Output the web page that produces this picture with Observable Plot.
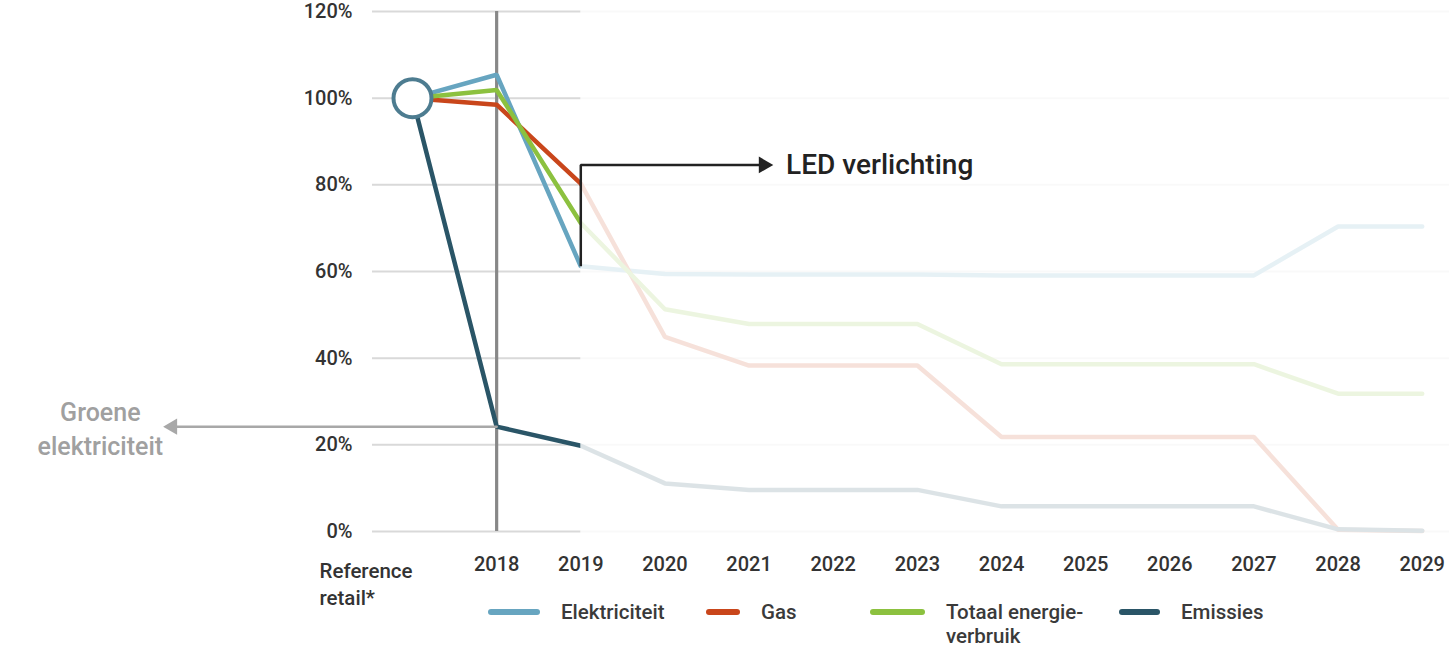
<!DOCTYPE html>
<html>
<head>
<meta charset="utf-8">
<script src="https://cdn.jsdelivr.net/npm/d3@7"></script>
<script src="https://cdn.jsdelivr.net/npm/@observablehq/plot@0.6"></script>
<style>
  body { margin: 0; background: #fff; font-family: Roboto, sans-serif; }
  #wrap { position: relative; width: 1449px; height: 648px; overflow: hidden; }
  #legend { position: absolute; left: 0; top: 600px; width: 1449px; height: 48px; }
  .sw { position: absolute; height: 6px; border-radius: 3px; top: 9px; }
  .lt { position: absolute; top: 0; font-size: 20.5px; font-weight: 500; line-height: 24px; color: #3a3a3a; white-space: nowrap; }
  svg text { font-weight: 500; }
</style>
</head>
<body>
<div id="wrap"><div id="chart"></div><div id="legend"></div></div>
<script>
// ---- data ----
const categories = ["Reference retail*", "2018", "2019", "2020", "2021", "2022", "2023", "2024", "2025", "2026", "2027", "2028", "2029"];
const seriesNames = ["Elektriciteit", "Gas", "Totaal energie-\nverbruik", "Emissies"];
const seriesColors = ["#67a5c0", "#c9461b", "#8cc13f", "#2a5567"];
const elektriciteit = [100, 105.4, 61.2, 59.4, 59.3, 59.3, 59.3, 59.1, 59.1, 59.1, 59.1, 70.4, 70.4];
const gas           = [100, 98.5, 80.3, 44.9, 38.3, 38.3, 38.3, 21.8, 21.8, 21.8, 21.8, 0.4, 0.1];
const totaal        = [100, 101.9, 71.2, 51.3, 47.9, 47.9, 47.9, 38.6, 38.6, 38.6, 38.6, 31.8, 31.8];
const emissies      = [100, 24.2, 19.8, 11.1, 9.6, 9.6, 9.6, 5.8, 5.8, 5.8, 5.8, 0.5, 0.2];
const seriesValues = [elektriciteit, gas, totaal, emissies];
const yTicks = [0, 20, 40, 60, 80, 100, 120];
const futureFrom = "2019";
const ledLabel = "LED verlichting";
const ledLevel = 84.6;     // height of the LED bracket (value)
const ledTip = 4.28;       // arrow tip (category index units)
const ledTextAt = 4.44;
const groeneLabel = "Groene\nelektriciteit";
const groeneTip = -2.96;
const groeneTextAt = -3.71;

// ---- derived ----
const rows = seriesNames.flatMap((name, s) => seriesValues[s].map((v, i) => ({serie: name, i, value: v})));
const futureIdx = categories.indexOf(futureFrom);
const xDomain = [-0.4754, 12.324];
const yDomain = [0, 120];
const ledBracket = [
  {i: futureIdx, value: elektriciteit[futureIdx]},
  {i: futureIdx, value: ledLevel},
  {i: ledTip - 0.1, value: ledLevel}
];
const groeneIdx = categories.indexOf("2018");
const groeneArrow = [
  {i: groeneIdx, value: emissies[groeneIdx]},
  {i: groeneTip + 0.1, value: emissies[groeneIdx]}
];

const chart = Plot.plot({
  width: 1449,
  height: 600,
  marginLeft: 372,
  marginRight: 0,
  marginTop: 11,
  marginBottom: 69,
  x: {domain: xDomain},
  y: {domain: yDomain},
  color: {domain: seriesNames, range: seriesColors},
  style: {fontFamily: "Roboto, sans-serif", fontSize: "20px", color: "#333", background: "white", overflow: "visible"},
  marks: [
    Plot.gridY(yTicks, {stroke: "#d9d9d9", strokeOpacity: 1, strokeWidth: 2}),
    Plot.axisY({ticks: yTicks, tickFormat: d => d + "%", tickSize: 0, tickPadding: 20, label: null, fontSize: 20}),
    Plot.axisX({ticks: d3.range(1, categories.length), tickFormat: i => categories[i], tickSize: 0, tickPadding: 25, label: null, fontSize: 20}),
    Plot.ruleX([groeneIdx], {y1: yDomain[0], y2: yDomain[1], stroke: "#888", strokeWidth: 3.2}),
    Plot.line(rows, {x: "i", y: "value", z: "serie", stroke: "serie", strokeWidth: 4.5, strokeLinejoin: "miter", strokeLinecap: "round"}),
    Plot.rect([0], {x1: futureIdx, x2: xDomain[1], y1: yDomain[0] - 1.2, y2: yDomain[1] + 1.2, fill: "white", fillOpacity: 0.84}),
    Plot.dot([{i: 0, value: 100}], {x: "i", y: "value", r: 19, fill: "white", stroke: "#4d7c90", strokeWidth: 4}),
    // LED bracket
    Plot.line(ledBracket, {x: "i", y: "value", stroke: "#222", strokeWidth: 2.5, strokeLinejoin: "miter", strokeLinecap: "butt"}),
    Plot.dot([{i: ledTip, value: ledLevel}], {x: "i", y: "value", symbol: "triangle", rotate: 90, r: 6.2, fill: "#222", dx: -9}),
    Plot.text([ledLabel], {x: ledTextAt, y: ledLevel, text: d => d, textAnchor: "start", fontSize: 28, fill: "#222"}),
    // Groene elektriciteit arrow
    Plot.line(groeneArrow, {x: "i", y: "value", stroke: "#a8a8a8", strokeWidth: 2.5}),
    Plot.dot([{i: groeneTip, value: emissies[groeneIdx]}], {x: "i", y: "value", symbol: "triangle", rotate: -90, r: 6, fill: "#a8a8a8", dx: 9}),
    Plot.text([groeneLabel], {x: groeneTextAt, y: emissies[groeneIdx], text: d => d, textAnchor: "middle", fontSize: 25, lineHeight: 1.36, fill: "#a0a0a0"}),
    // Reference label
    Plot.text([categories[0]], {x: 0, y: yDomain[0], text: d => d.replace(" ", "\n"), textAnchor: "start", lineAnchor: "top", dx: -93, dy: 27, fontSize: 20.5, lineHeight: 1.32, fill: "#333"})
  ]
});
document.getElementById("chart").appendChild(chart);

// ---- legend ----
const legendLayout = [
  {sw: [488, 52], tx: 561},
  {sw: [706, 34], tx: 761},
  {sw: [870, 55], tx: 946},
  {sw: [1119, 41], tx: 1181}
];
const legend = document.getElementById("legend");
seriesNames.forEach((name, k) => {
  const s = document.createElement("div");
  s.className = "sw";
  s.style.left = legendLayout[k].sw[0] + "px";
  s.style.width = legendLayout[k].sw[1] + "px";
  s.style.background = seriesColors[k];
  legend.appendChild(s);
  const t = document.createElement("div");
  t.className = "lt";
  t.style.left = legendLayout[k].tx + "px";
  t.innerHTML = name.replace("\n", "<br>");
  legend.appendChild(t);
});
</script>
</body>
</html>
